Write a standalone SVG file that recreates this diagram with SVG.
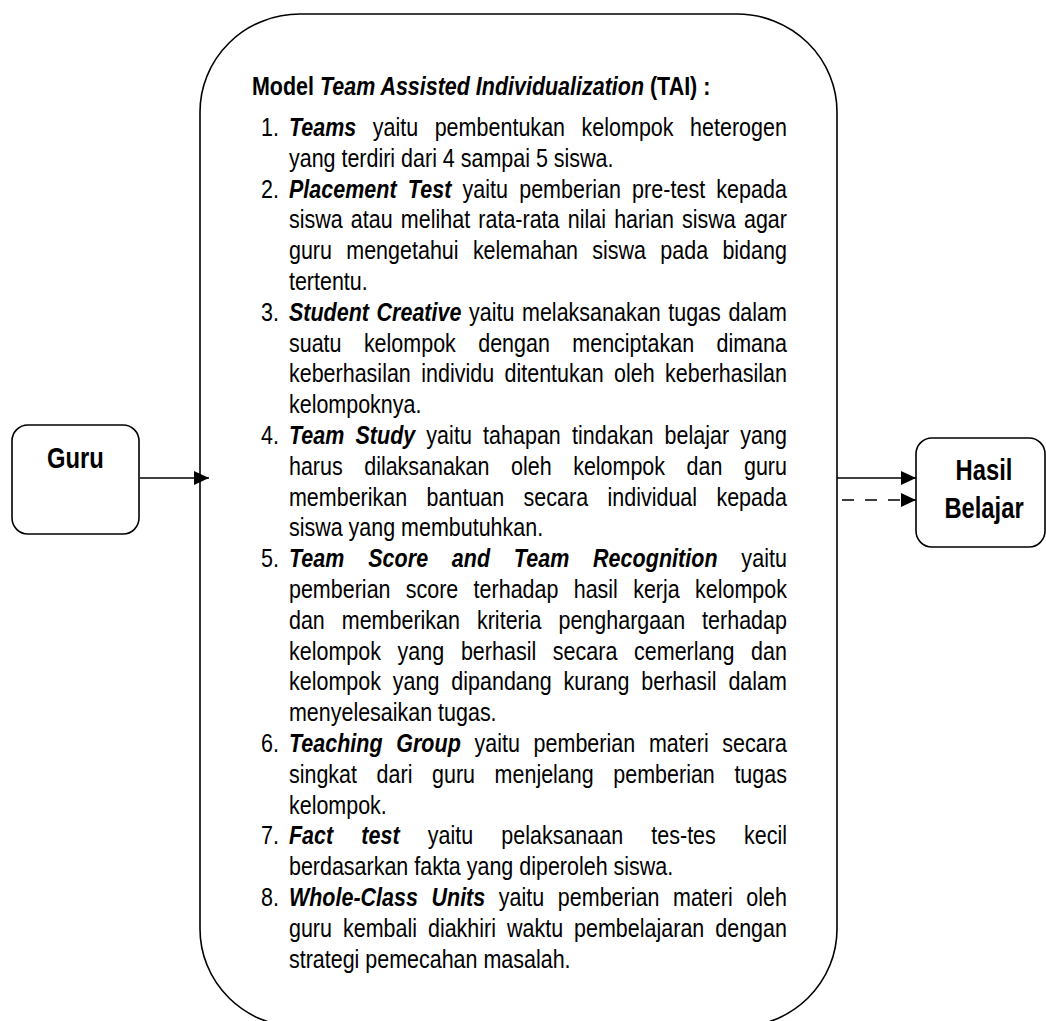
<svg xmlns="http://www.w3.org/2000/svg" width="1046" height="1021" viewBox="0 0 1046 1021">
<style>
.box{fill:#fff;stroke:#000;stroke-width:1.6}
.lbl{font-family:"Liberation Sans",Arial,sans-serif;font-weight:bold;font-size:29px;fill:#000}
.t{font-family:"Liberation Sans",Arial,sans-serif;font-size:26.2px;fill:#000}
.b{font-weight:bold}
.bi{font-weight:bold;font-style:italic}
.con{stroke:#000;stroke-width:1.6;fill:none}
</style>
<defs>
<marker id="ah" markerUnits="userSpaceOnUse" viewBox="0 0 15 14" refX="15" refY="7" markerWidth="15" markerHeight="14" orient="auto">
<path d="M0,0 L15,7 L0,14 z" fill="#000"/>
</marker>
</defs>
<rect width="1046" height="1021" fill="#fff"/>
<g id="guru">
<rect class="box" x="12" y="425" width="127" height="109" rx="16"/>
<text class="lbl" transform="translate(75.5,468) scale(0.82,1)" text-anchor="middle">Guru</text>
</g>
<g id="hasil">
<rect class="box" x="916" y="438" width="129" height="109" rx="16"/>
<text class="lbl" transform="translate(984,480) scale(0.82,1)" text-anchor="middle">Hasil</text>
<text class="lbl" transform="translate(984,518) scale(0.82,1)" text-anchor="middle">Belajar</text>
</g>
<g id="model">
<rect class="box" x="200" y="14" width="637" height="1013" rx="100" ry="98"/>
<g class="t" transform="scale(0.82,1)">
<text class="b" x="307.3" y="95">Model <tspan class="bi">Team Assisted Individualization</tspan> (TAI) :</text>
<text x="318.3" y="136">1.</text>
<text x="352.4" y="136" textLength="607.3" lengthAdjust="spacing" word-spacing="12.7"><tspan class="bi">Teams</tspan> yaitu pembentukan kelompok heterogen</text>
<text x="352.4" y="166.8">yang terdiri dari 4 sampai 5 siswa.</text>
<text x="318.3" y="197.6">2.</text>
<text x="352.4" y="197.6" textLength="607.3" lengthAdjust="spacing" word-spacing="6.3"><tspan class="bi">Placement Test</tspan> yaitu pemberian pre-test kepada</text>
<text x="352.4" y="228.4" textLength="607.3" lengthAdjust="spacing" word-spacing="2.7">siswa atau melihat rata-rata nilai harian siswa agar</text>
<text x="352.4" y="259.2" textLength="607.3" lengthAdjust="spacing" word-spacing="10.1">guru mengetahui kelemahan siswa pada bidang</text>
<text x="352.4" y="290">tertentu.</text>
<text x="318.3" y="320.8">3.</text>
<text x="352.4" y="320.8" textLength="607.3" lengthAdjust="spacing" word-spacing="2"><tspan class="bi">Student Creative</tspan> yaitu melaksanakan tugas dalam</text>
<text x="352.4" y="351.6" textLength="607.3" lengthAdjust="spacing" word-spacing="20">suatu kelompok dengan menciptakan dimana</text>
<text x="352.4" y="382.4" textLength="607.3" lengthAdjust="spacing" word-spacing="5.4">keberhasilan individu ditentukan oleh keberhasilan</text>
<text x="352.4" y="413.2">kelompoknya.</text>
<text x="318.3" y="444">4.</text>
<text x="352.4" y="444" textLength="607.3" lengthAdjust="spacing" word-spacing="6.2"><tspan class="bi">Team Study</tspan> yaitu tahapan tindakan belajar yang</text>
<text x="352.4" y="474.8" textLength="607.3" lengthAdjust="spacing" word-spacing="19.1">harus dilaksanakan oleh kelompok dan guru</text>
<text x="352.4" y="505.6" textLength="607.3" lengthAdjust="spacing" word-spacing="16.3">memberikan bantuan secara individual kepada</text>
<text x="352.4" y="536.4">siswa yang membutuhkan.</text>
<text x="318.3" y="567.2">5.</text>
<text x="352.4" y="567.2" textLength="607.3" lengthAdjust="spacing" word-spacing="21.5"><tspan class="bi">Team Score and Team Recognition</tspan> yaitu</text>
<text x="352.4" y="598" textLength="607.3" lengthAdjust="spacing" word-spacing="11.3">pemberian score terhadap hasil kerja kelompok</text>
<text x="352.4" y="628.8" textLength="607.3" lengthAdjust="spacing" word-spacing="13.4">dan memberikan kriteria penghargaan terhadap</text>
<text x="352.4" y="659.6" textLength="607.3" lengthAdjust="spacing" word-spacing="13">kelompok yang berhasil secara cemerlang dan</text>
<text x="352.4" y="690.4" textLength="607.3" lengthAdjust="spacing" word-spacing="7.2">kelompok yang dipandang kurang berhasil dalam</text>
<text x="352.4" y="721.2">menyelesaikan tugas.</text>
<text x="318.3" y="752">6.</text>
<text x="352.4" y="752" textLength="607.3" lengthAdjust="spacing" word-spacing="9.3"><tspan class="bi">Teaching Group</tspan> yaitu pemberian materi secara</text>
<text x="352.4" y="782.8" textLength="607.3" lengthAdjust="spacing" word-spacing="16.6">singkat dari guru menjelang pemberian tugas</text>
<text x="352.4" y="813.6">kelompok.</text>
<text x="318.3" y="844.4">7.</text>
<text x="352.4" y="844.4" textLength="607.3" lengthAdjust="spacing" word-spacing="27.1"><tspan class="bi">Fact test</tspan> yaitu pelaksanaan tes-tes kecil</text>
<text x="352.4" y="875.2">berdasarkan fakta yang diperoleh siswa.</text>
<text x="318.3" y="906">8.</text>
<text x="352.4" y="906" textLength="607.3" lengthAdjust="spacing" word-spacing="9.3"><tspan class="bi">Whole-Class Units</tspan> yaitu pemberian materi oleh</text>
<text x="352.4" y="936.8" textLength="607.3" lengthAdjust="spacing" word-spacing="6.1">guru kembali diakhiri waktu pembelajaran dengan</text>
<text x="352.4" y="967.6">strategi pemecahan masalah.</text>
</g>
</g>
<g id="connectors">
<line class="con" x1="140" y1="478" x2="209" y2="478" marker-end="url(#ah)"/>
<line class="con" x1="837" y1="478" x2="916" y2="478" marker-end="url(#ah)"/>
<line class="con" x1="842" y1="500" x2="916" y2="500" stroke-dasharray="12 11" marker-end="url(#ah)"/>
</g>
</svg>
